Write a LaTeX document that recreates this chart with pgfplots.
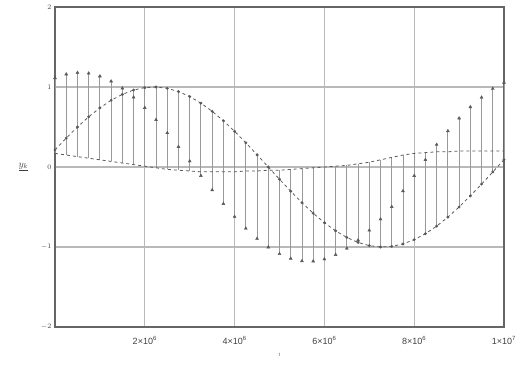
\documentclass[border=0pt]{standalone}
\usepackage{fontspec}
\setmainfont{Liberation Sans}
\usepackage{pgfplots}
\usepackage{pgfplotstable}
\pgfplotsset{compat=1.18}
\pgfplotstableread{
t A B C
0 1.113 0.214 0.17
0.25 1.160 0.361 0.15
0.5 1.179 0.500 0.13
0.75 1.171 0.627 0.11
1.0 1.135 0.739 0.09
1.25 1.072 0.834 0.07
1.5 0.984 0.908 0.05
1.75 0.872 0.962 0.03
2.0 0.740 0.992 0.01
2.25 0.590 1.000 -0.01
2.5 0.426 0.983 -0.03
2.75 0.253 0.943 -0.04
3.0 0.073 0.881 -0.05
3.25 -0.109 0.798 -0.06
3.5 -0.288 0.696 -0.06
3.75 -0.460 0.578 -0.06
4.0 -0.621 0.446 -0.06
4.25 -0.768 0.303 -0.05
4.5 -0.896 0.153 -0.05
4.75 -1.003 0.000 -0.04
5.0 -1.086 -0.153 -0.04
5.25 -1.144 -0.303 -0.03
5.5 -1.175 -0.446 -0.02
5.75 -1.178 -0.578 -0.01
6.0 -1.152 -0.696 0.00
6.25 -1.097 -0.798 0.01
6.5 -1.018 -0.881 0.02
6.75 -0.915 -0.943 0.04
7.0 -0.792 -0.983 0.06
7.25 -0.652 -1.000 0.09
7.5 -0.497 -0.992 0.12
7.75 -0.300 -0.962 0.15
8.0 -0.110 -0.908 0.17
8.25 0.090 -0.834 0.18
8.5 0.280 -0.739 0.19
8.75 0.450 -0.627 0.19
9.0 0.610 -0.500 0.20
9.25 0.750 -0.361 0.20
9.5 0.870 -0.214 0.20
9.75 0.980 -0.062 0.20
10 1.056 0.092 0.20
}\data
\begin{document}
\begin{tikzpicture}
\begin{axis}[
  scale only axis, width=449pt, height=320pt,
  xmin=0, xmax=10, ymin=-2, ymax=2,
  xtick={2,4,6,8,10},
  xticklabels={2×10\textsuperscript{6},4×10\textsuperscript{6},6×10\textsuperscript{6},8×10\textsuperscript{6},1×10\textsuperscript{7}},
  ytick={-2,-1,0,1,2},
  yticklabels={$-2$,$-1$,$0$,$1$,$2$},
  grid=major,
  major grid style={gray!55, line width=1.1pt},
  axis line style={gray!80!black, line width=1.4pt},
  major tick length=0pt,
  tick label style={font=\small, black!75},
  xticklabel style={yshift=-6pt},
  yticklabel style={font=\scriptsize},
  ylabel={$\underline{y_k}$},
  ylabel style={rotate=-90, font=\normalsize, black!75, xshift=-6pt},
  xlabel={\tiny t},
  xlabel style={yshift=-2pt, black!60},
  clip=false,
]
\addplot[draw=none, mark=none, forget plot,
  error bars/.cd, y dir=plus, y explicit, error mark=none,
  error bar style={gray!80, line width=0.9pt}]
  table[x=t, y expr={min(\thisrow{A},\thisrow{B},\thisrow{C})},
        y error expr={max(\thisrow{A},\thisrow{B},\thisrow{C})-min(\thisrow{A},\thisrow{B},\thisrow{C})}] {\data};
\addplot[only marks, mark=triangle*, mark size=1.7pt, gray!70!black] table[x=t, y=A] {\data};
\addplot[dashed, gray!70!black, line width=0.8pt, mark=*, mark size=1pt, mark options={solid}] table[x=t, y=B] {\data};
\addplot[dashed, gray!70!black, line width=0.8pt] table[x=t, y=C] {\data};
\end{axis}
\pgfresetboundingbox
\path[use as bounding box] (current axis.south west) ++(-55pt,-43pt) rectangle ++(516pt,370pt);
\end{tikzpicture}
\end{document}
